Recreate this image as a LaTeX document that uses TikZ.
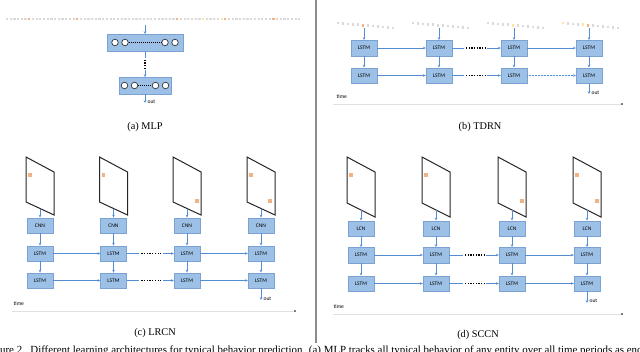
\documentclass[tikz,border=0pt]{standalone}
\usepackage{fontspec}
\setmainfont{Liberation Serif}
\newfontfamily\labelfont{Carlito}
\usepackage{tikz}
\usetikzlibrary{arrows.meta, positioning}
\definecolor{cellblue}{RGB}{157,193,230}
\definecolor{celledge}{RGB}{122,163,212}
\definecolor{flowblue}{RGB}{84,141,212}
\definecolor{pix}{RGB}{244,177,131}
\definecolor{pixlight}{RGB}{255,230,160}
\definecolor{seqgray}{RGB}{218,218,218}

\begin{document}
\begin{tikzpicture}[x=1pt, y=-1pt,
        cell/.style={draw=celledge, fill=cellblue, rectangle, minimum width=26pt, minimum height=15.5pt, inner sep=0pt, font=\labelfont\fontsize{5.5}{6}\selectfont},
        layer/.style={draw=celledge, fill=cellblue, rectangle, minimum height=16.5pt, inner sep=0pt},
        unit/.style={draw=black!80, fill=white, circle, minimum size=6.5pt, inner sep=0pt, line width=0.7pt},
        flow/.style={draw=flowblue, line width=0.5pt, -{Stealth[length=2.8pt, width=2.6pt]}},
        link/.style={draw=flowblue, line width=0.5pt},
        dotrow/.style={line width=1.3pt, dash pattern=on 1.3pt off 1.4pt, shorten <=2pt, shorten >=2pt},
        gap/.style={minimum width=23pt, minimum height=2pt, inner sep=0pt},
        frame/.style={draw=black!85, line width=1pt, fill=white},
        tag/.style={font=\labelfont\fontsize{5.5}{6}\selectfont, inner sep=0.5pt},
        subcap/.style={font=\fontsize{10.3}{12}\selectfont, inner sep=0pt},
        timeline/.style={draw=black!12, line width=0.5pt}
    ]
        \useasboundingbox (0,0) rectangle (640,352);
        \clip (0,0) rectangle (640,352);

        \draw[black!45, line width=1.3pt] (316,0) -- (316,343);

        % (a) MLP
        \foreach \i in {0,...,79}
            \fill[seqgray] ({7+\i*3.7-1.1},17.9) rectangle +(2.2,2.2);
        \foreach \i/\c in {6/pix, 19/pix, 46/pix, 53/pixlight, 58/pixlight, 59/pix, 72/pix}
            \fill[\c] ({7+\i*3.7-1.1},17.9) rectangle +(2.2,2.2);
        \coordinate (ain) at (145,25);
        \node[layer, minimum width=76pt] (top) at (145,42.5) {};
        \foreach \x [count=\k] in {115,125,165,175}
            \node[unit] (top\k) at (\x,42.5) {};
        \draw[line width=0.9pt, dash pattern=on 0.9pt off 1.1pt] (top2) -- (top3);
        \node[layer, minimum width=52pt] (bot) at (145,85.5) {};
        \foreach \x [count=\k] in {124.5,134.5,155.5,165.5}
            \node[unit] (bot\k) at (\x,85.5) {};
        \draw[line width=0.9pt, dash pattern=on 0.9pt off 1.1pt] (bot2) -- (bot3);
        \node[minimum width=2pt, minimum height=12pt, inner sep=0pt] (mid) at (145,64) {};
        \draw[line width=1.3pt, dash pattern=on 1.3pt off 1.4pt, shorten <=2pt, shorten >=2pt] (mid.north) -- (mid.south);
        \coordinate (aout) at (145,103);
        \draw[flow] (ain) -- (top);
        \draw[link] (top) -- (mid);
        \draw[flow] (mid) -- (bot);
        \draw[flow] (bot) -- (aout);
        \node[tag, anchor=west] (aouttag) at (147,102) {out};
        \node[subcap] (capa) at (145,127) {(a) MLP};

        % (b) TDRN
        \foreach \i/\x in {1/364, 2/439, 3/514, 4/589} {
            \foreach \j in {0,...,11}
                \fill[seqgray] ({\x-26+\j*5-1.3},{23+\j*0.45-1.3}) rectangle +(2.6,2.6);
            \coordinate (bin\i) at (\x,28);
            \node[cell] (bl\i) at (\x,48) {LSTM};
            \node[cell] (bm\i) at (\x,75.5) {LSTM};
            \draw[flow] (bin\i) -- (bl\i);
            \draw[flow] (bl\i) -- (bm\i);
        }
        \foreach \x/\j/\c in {364/5/pix, 514/5/pixlight, 589/0/pixlight, 589/4/pixlight, 589/5/pix}
            \fill[\c] ({\x-26+\j*5-1.3},{23+\j*0.45-1.3}) rectangle +(2.6,2.6);
        \node[gap] (bg1) at (475.5,48) {};
        \node[gap] (bg2) at (475.5,75.5) {};
        \draw[dotrow] (bg1.west) -- (bg1.east);
        \draw[dotrow] (bg2.west) -- (bg2.east);
        \draw[flow] (bl1) -- (bl2);
        \draw[link] (bl2) -- (bg1);
        \draw[flow] (bg1) -- (bl3);
        \draw[flow] (bl3) -- (bl4);
        \draw[flow] (bm1) -- (bm2);
        \draw[link] (bm2) -- (bg2);
        \draw[flow] (bg2) -- (bm3);
        \draw[flow, densely dotted] (bm3) -- (bm4);
        \coordinate (bout) at (589,94);
        \draw[flow] (bm4) -- (bout);
        \node[tag, anchor=west] (bouttag) at (591,93) {out};
        \node[tag, anchor=west] (btime) at (336,97) {time};
        \coordinate (bt0) at (333,104);
        \coordinate (bt1) at (622,104);
        \draw[timeline] (bt0) -- (bt1);
        \fill (bt1) circle (0.8);
        \node[subcap] (capb) at (480,127) {(b) TDRN};

        % (c) LRCN
        \foreach \i/\x in {1/40, 2/113.5, 3/187, 4/261} {
            \draw[frame] ({\x-14},157) -- ({\x+14},172) -- ({\x+14},215) -- ({\x-14},202) -- cycle;
            \coordinate (cf\i) at (\x,209);
            \node[cell] (cc\i) at (\x,225.5) {CNN};
            \node[cell] (cl\i) at (\x,253.5) {LSTM};
            \node[cell] (cm\i) at (\x,280.5) {LSTM};
            \draw[flow] (cf\i) -- (cc\i);
            \draw[flow] (cc\i) -- (cl\i);
            \draw[flow] (cl\i) -- (cm\i);
        }
        \foreach \x/\y in {30/175, 103.5/175, 197/201, 251/175, 270/201}
            \fill[pix] ({\x-1.8},{\y-1.8}) rectangle +(3.6,3.6);
        \node[gap] (cg1) at (151,253.5) {};
        \node[gap] (cg2) at (151,280.5) {};
        \draw[dotrow] (cg1.west) -- (cg1.east);
        \draw[dotrow] (cg2.west) -- (cg2.east);
        \draw[flow] (cl1) -- (cl2);
        \draw[link] (cl2) -- (cg1);
        \draw[flow] (cg1) -- (cl3);
        \draw[flow] (cl3) -- (cl4);
        \draw[flow] (cm1) -- (cm2);
        \draw[link] (cm2) -- (cg2);
        \draw[flow] (cg2) -- (cm3);
        \draw[flow] (cm3) -- (cm4);
        \coordinate (cout) at (261,300);
        \draw[flow] (cm4) -- (cout);
        \node[tag, anchor=west] (couttag) at (263,299) {out};
        \node[tag, anchor=west] (ctime) at (13,304) {time};
        \coordinate (ct0) at (12,311);
        \coordinate (ct1) at (295,311);
        \draw[timeline] (ct0) -- (ct1);
        \fill (ct1) circle (0.8);
        \node[subcap] (capc) at (155,333) {(c) LRCN};

        % (d) SCCN
        \foreach \i/\x in {1/361, 2/436, 3/512, 4/587} {
            \draw[frame] ({\x-14},157) -- ({\x+14},172) -- ({\x+14},217) -- ({\x-14},203) -- cycle;
            \coordinate (df\i) at (\x,210);
            \node[cell] (dc\i) at (\x,228.5) {LCN};
            \node[cell] (dl\i) at (\x,255) {LSTM};
            \node[cell] (dm\i) at (\x,283.5) {LSTM};
            \draw[flow] (df\i) -- (dc\i);
            \draw[flow] (dc\i) -- (dl\i);
            \draw[flow] (dl\i) -- (dm\i);
        }
        \foreach \x/\y in {351/175, 426/175, 522/201, 577/175, 597/201}
            \fill[pix] ({\x-1.8},{\y-1.8}) rectangle +(3.6,3.6);
        \node[gap] (dg1) at (474.5,255) {};
        \node[gap] (dg2) at (474.5,283.5) {};
        \draw[dotrow] (dg1.west) -- (dg1.east);
        \draw[dotrow] (dg2.west) -- (dg2.east);
        \draw[flow] (dl1) -- (dl2);
        \draw[link] (dl2) -- (dg1);
        \draw[flow] (dg1) -- (dl3);
        \draw[flow] (dl3) -- (dl4);
        \draw[flow] (dm1) -- (dm2);
        \draw[link] (dm2) -- (dg2);
        \draw[flow] (dg2) -- (dm3);
        \draw[flow] (dm3) -- (dm4);
        \coordinate (dout) at (587,303);
        \draw[flow] (dm4) -- (dout);
        \node[tag, anchor=west] (douttag) at (589,301) {out};
        \node[tag, anchor=west] (dtime) at (333,307) {time};
        \coordinate (dt0) at (333,314);
        \coordinate (dt1) at (622,314);
        \draw[timeline] (dt0) -- (dt1);
        \fill (dt1) circle (0.8);
        \node[subcap] (capd) at (478,335) {(d) SCCN};

        \node[anchor=base west, font=\fontsize{10.9}{13}\selectfont, inner sep=0pt] (fig) at (-14.6,354) {Figure 2.\ \ Different learning architectures for typical behavior prediction. (a) MLP tracks all typical behavior of any entity over all time periods as encoded};
    \end{tikzpicture}
\end{document}
